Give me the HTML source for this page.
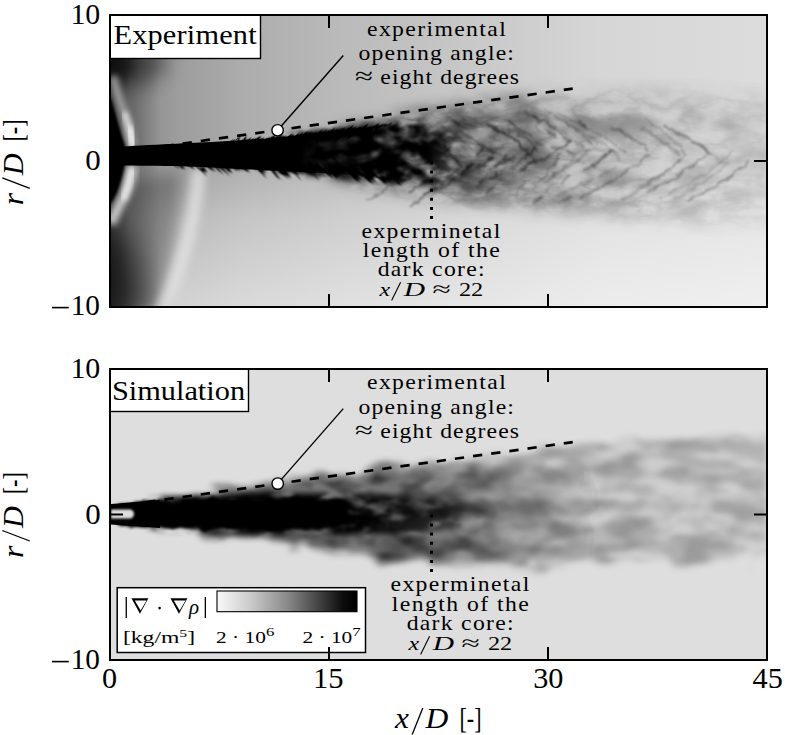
<!DOCTYPE html>
<html><head><meta charset="utf-8"><style>html,body{margin:0;padding:0;background:#fff;overflow:hidden}svg{display:block}</style></head>
<body><svg width="785" height="735" viewBox="0 0 785 735" font-family="Liberation Serif" fill="#000">
<defs>
<clipPath id="c1"><rect x="111" y="16" width="655" height="290"/></clipPath>
<clipPath id="c2"><rect x="111" y="370" width="655" height="289"/></clipPath>

<linearGradient id="cbar" x1="0" x2="1" y1="0" y2="0">
 <stop offset="0" stop-color="#fafafa"/><stop offset="0.25" stop-color="#c8c8c8"/><stop offset="0.5" stop-color="#8a8a8a"/><stop offset="0.75" stop-color="#3c3c3c"/><stop offset="0.9" stop-color="#0c0c0c"/><stop offset="1" stop-color="#000"/>
</linearGradient>
<linearGradient id="bgx" gradientUnits="userSpaceOnUse" x1="111" x2="766" y1="0" y2="0">
 <stop offset="0" stop-color="#808080"/><stop offset="0.05" stop-color="#8e8e8e"/><stop offset="0.1" stop-color="#9c9c9c"/><stop offset="0.2" stop-color="#acacac"/><stop offset="0.35" stop-color="#bababa"/><stop offset="0.55" stop-color="#c8c8c8"/><stop offset="0.75" stop-color="#d6d6d6"/><stop offset="1" stop-color="#dcdcdc"/>
</linearGradient>
<linearGradient id="bgy" gradientUnits="userSpaceOnUse" x1="0" x2="0" y1="160" y2="306">
 <stop offset="0" stop-color="#fff" stop-opacity="0"/><stop offset="0.4" stop-color="#fff" stop-opacity="0.3"/><stop offset="1" stop-color="#fff" stop-opacity="0.55"/>
</linearGradient>
<filter id="b05" x="-20%" y="-20%" width="140%" height="140%"><feGaussianBlur stdDeviation="0.6"/></filter>
<filter id="b1" x="-20%" y="-20%" width="140%" height="140%"><feGaussianBlur stdDeviation="1"/></filter>
<filter id="b2" x="-20%" y="-20%" width="140%" height="140%"><feGaussianBlur stdDeviation="2.5"/></filter>
<filter id="b3" x="-30%" y="-30%" width="160%" height="160%"><feGaussianBlur stdDeviation="3"/></filter>
<filter id="b4" x="-30%" y="-30%" width="160%" height="160%"><feGaussianBlur stdDeviation="4"/></filter>
<filter id="b6" x="-30%" y="-30%" width="160%" height="160%"><feGaussianBlur stdDeviation="6"/></filter>
<filter id="b8" x="-50%" y="-50%" width="200%" height="200%"><feGaussianBlur stdDeviation="8"/></filter>
<filter id="b10" x="-50%" y="-50%" width="200%" height="200%"><feGaussianBlur stdDeviation="10"/></filter>
<filter id="b16" x="-50%" y="-50%" width="200%" height="200%"><feGaussianBlur stdDeviation="16"/></filter>
<filter id="hair" x="-10%" y="-100%" width="120%" height="300%">
 <feTurbulence type="fractalNoise" baseFrequency="0.35 0.015" numOctaves="2" seed="3" result="t"/>
 <feDisplacementMap in="SourceGraphic" in2="t" scale="24" xChannelSelector="R" yChannelSelector="G" result="d"/>
 <feGaussianBlur in="d" stdDeviation="1.1"/>
</filter>
<filter id="hair2" x="-10%" y="-100%" width="120%" height="300%">
 <feTurbulence type="fractalNoise" baseFrequency="0.3 0.015" numOctaves="2" seed="8" result="t"/>
 <feDisplacementMap in="SourceGraphic" in2="t" scale="10" xChannelSelector="R" yChannelSelector="G" result="d"/>
 <feGaussianBlur in="d" stdDeviation="0.7"/>
</filter>
<filter id="fringe" x="-10%" y="-40%" width="120%" height="180%">
 <feTurbulence type="fractalNoise" baseFrequency="0.22 0.04" numOctaves="2" seed="9" result="t"/>
 <feDisplacementMap in="SourceGraphic" in2="t" scale="9" xChannelSelector="R" yChannelSelector="G" result="d"/>
 <feGaussianBlur in="d" stdDeviation="1"/>
</filter>
<filter id="ragged" x="-10%" y="-30%" width="120%" height="160%">
 <feTurbulence type="turbulence" baseFrequency="0.09 0.05" numOctaves="2" seed="4" result="t"/>
 <feDisplacementMap in="SourceGraphic" in2="t" scale="9" xChannelSelector="R" yChannelSelector="G" result="d"/>
 <feGaussianBlur in="d" stdDeviation="0.8"/>
</filter>
<filter id="streak" x="0" y="0" width="100%" height="100%">
 <feTurbulence type="turbulence" baseFrequency="0.025 0.06" numOctaves="3" seed="7" result="n"/>
 <feColorMatrix in="n" type="matrix" values="0 0 0 0 0  0 0 0 0 0  0 0 0 0 0  -5 0 0 0 1.3" result="a"/>
 <feComposite in="SourceGraphic" in2="a" operator="in" result="c"/>
 <feGaussianBlur in="c" stdDeviation="0.6"/>
</filter>
<filter id="cloud" x="0" y="0" width="100%" height="100%">
 <feTurbulence type="fractalNoise" baseFrequency="0.03 0.05" numOctaves="3" seed="3" result="n"/>
 <feColorMatrix in="n" type="matrix" values="0 0 0 0 0  0 0 0 0 0  0 0 0 0 0  2.2 0 0 0 -0.55" result="a"/>
 <feComposite in="SourceGraphic" in2="a" operator="in" result="c"/>
 <feGaussianBlur in="c" stdDeviation="2"/>
</filter>
<linearGradient id="gTopPuff" gradientUnits="userSpaceOnUse" x1="300" x2="766" y1="0" y2="0">
 <stop offset="0" stop-color="#fff"/><stop offset="0.3" stop-color="#fff"/><stop offset="0.55" stop-color="#909090"/><stop offset="0.8" stop-color="#505050"/><stop offset="1" stop-color="#383838"/>
</linearGradient>
<mask id="mTopPuff" maskUnits="userSpaceOnUse" x="0" y="0" width="785" height="735">
 <path d="M330,134 C380,120 430,108 480,101 C560,93 640,90 700,92 L780,97 L780,222 C700,225 640,220 580,213 C520,208 470,203 430,197 C390,190 360,184 330,178 Z" fill="url(#gTopPuff)" filter="url(#b8)"/>
</mask>
<linearGradient id="gLeftDark" gradientUnits="userSpaceOnUse" x1="111" x2="160" y1="0" y2="0">
 <stop offset="0" stop-color="#000" stop-opacity="0.55"/><stop offset="0.4" stop-color="#000" stop-opacity="0.25"/><stop offset="1" stop-color="#000" stop-opacity="0"/>
</linearGradient>
<linearGradient id="gTopDark" gradientUnits="userSpaceOnUse" x1="380" x2="600" y1="0" y2="0">
 <stop offset="0" stop-color="#fff"/><stop offset="0.5" stop-color="#d0d0d0"/><stop offset="1" stop-color="#000"/>
</linearGradient>
<mask id="mTopDark" maskUnits="userSpaceOnUse" x="0" y="0" width="785" height="735">
 <path d="M370,125 C420,110 470,103 520,100 C550,99 570,100 590,104 L600,150 L590,200 C560,206 520,206 480,200 C450,194 420,188 380,180 Z" fill="url(#gTopDark)" filter="url(#b6)"/>
</mask>
<linearGradient id="gCoreSolid" gradientUnits="userSpaceOnUse" x1="300" x2="420" y1="0" y2="0">
 <stop offset="0" stop-color="#fff"/><stop offset="1" stop-color="#fff" stop-opacity="0"/>
</linearGradient>
<mask id="mCoreSolid" maskUnits="userSpaceOnUse" x="0" y="0" width="785" height="735">
 <rect x="0" y="0" width="785" height="735" fill="url(#gCoreSolid)"/>
</mask>
<linearGradient id="gCoreTurb" gradientUnits="userSpaceOnUse" x1="270" x2="480" y1="0" y2="0">
 <stop offset="0" stop-color="#fff" stop-opacity="0"/><stop offset="0.15" stop-color="#fff"/><stop offset="0.75" stop-color="#fff"/><stop offset="1" stop-color="#fff" stop-opacity="0"/>
</linearGradient>
<mask id="mCoreTurb" maskUnits="userSpaceOnUse" x="0" y="0" width="785" height="735">
 <path d="M270,136 C320,130 350,126 380,123 C410,120 430,121 450,126 C470,135 478,160 470,176 C455,184 430,186 405,184 C370,181 330,177 270,172 Z" fill="url(#gCoreTurb)" filter="url(#b3)"/>
</mask>
<filter id="turb" x="0" y="0" width="100%" height="100%">
 <feTurbulence type="fractalNoise" baseFrequency="0.045 0.07" numOctaves="3" seed="14" result="n"/>
 <feColorMatrix in="n" type="matrix" values="0 0 0 0 0  0 0 0 0 0  0 0 0 0 0  -4.5 0 0 0 3.0" result="a"/>
 <feComposite in="SourceGraphic" in2="a" operator="in" result="c"/>
 <feGaussianBlur in="c" stdDeviation="0.8"/>
</filter>
<filter id="contour" x="0" y="0" width="100%" height="100%">
 <feTurbulence type="fractalNoise" baseFrequency="0.022 0.05" numOctaves="5" seed="9" result="n"/>
 <feComponentTransfer in="n" result="a"><feFuncA type="table" tableValues="0 0.1 0.3 0.95 0.3 0.1 0"/></feComponentTransfer>
 <feComposite in="SourceGraphic" in2="a" operator="in" result="c"/>
 <feGaussianBlur in="c" stdDeviation="0.4"/>
</filter>
<filter id="contour2" x="0" y="0" width="100%" height="100%">
 <feTurbulence type="fractalNoise" baseFrequency="0.03 0.06" numOctaves="5" seed="19" result="n"/>
 <feComponentTransfer in="n" result="a"><feFuncA type="table" tableValues="0 0.1 0.4 1 0.4 0.1 0"/></feComponentTransfer>
 <feComposite in="SourceGraphic" in2="a" operator="in" result="c"/>
 <feGaussianBlur in="c" stdDeviation="0.4"/>
</filter>
<linearGradient id="gSimPuff" gradientUnits="userSpaceOnUse" x1="450" x2="766" y1="0" y2="0">
 <stop offset="0" stop-color="#fff"/><stop offset="1" stop-color="#a0a0a0"/>
</linearGradient>
<filter id="edgeN" x="-10%" y="-30%" width="120%" height="160%">
 <feTurbulence type="fractalNoise" baseFrequency="0.03 0.06" numOctaves="2" seed="51" result="t"/>
 <feDisplacementMap in="SourceGraphic" in2="t" scale="26" xChannelSelector="R" yChannelSelector="G" result="d"/>
 <feGaussianBlur in="d" stdDeviation="3"/>
</filter>
<linearGradient id="gSimCore" gradientUnits="userSpaceOnUse" x1="150" x2="500" y1="0" y2="0">
 <stop offset="0" stop-color="#fff"/><stop offset="0.6" stop-color="#fff"/><stop offset="0.85" stop-color="#999"/><stop offset="1" stop-color="#000"/>
</linearGradient>
<mask id="mSimCore" maskUnits="userSpaceOnUse" x="0" y="0" width="785" height="735">
 <path d="M150,499 C220,494 300,492 360,494 C410,496 450,499 490,504 C500,512 495,522 480,526 C440,532 400,534 360,534 C300,535 220,533 150,529 Z" fill="url(#gSimCore)" filter="url(#b3)"/>
</mask>
<filter id="turbS" x="0" y="0" width="100%" height="100%">
 <feTurbulence type="fractalNoise" baseFrequency="0.035 0.08" numOctaves="3" seed="23" result="n"/>
 <feColorMatrix in="n" type="matrix" values="0 0 0 0 0  0 0 0 0 0  0 0 0 0 0  -4.5 0 0 0 3.1" result="a"/>
 <feComposite in="SourceGraphic" in2="a" operator="in" result="c"/>
 <feGaussianBlur in="c" stdDeviation="1.5"/>
</filter>
<filter id="wiggle" x="-10%" y="-10%" width="120%" height="120%">
 <feTurbulence type="fractalNoise" baseFrequency="0.12 0.12" numOctaves="2" seed="61" result="t"/>
 <feDisplacementMap in="SourceGraphic" in2="t" scale="7" xChannelSelector="R" yChannelSelector="G" result="d"/>
 <feGaussianBlur in="d" stdDeviation="0.9"/>
</filter>
<filter id="smoke" x="0" y="0" width="100%" height="100%">
 <feTurbulence type="fractalNoise" baseFrequency="0.022 0.035" numOctaves="4" seed="77" result="n"/>
 <feColorMatrix in="n" type="matrix" values="0 0 0 0 0  0 0 0 0 0  0 0 0 0 0  3.2 0 0 0 -1.35" result="a"/>
 <feComposite in="SourceGraphic" in2="a" operator="in" result="c"/>
 <feGaussianBlur in="c" stdDeviation="1.2"/>
</filter>
<filter id="puffA" x="0" y="0" width="100%" height="100%">
 <feTurbulence type="fractalNoise" baseFrequency="0.018 0.05" numOctaves="3" seed="31" result="n"/>
 <feColorMatrix in="n" type="matrix" values="0 0 0 0 0  0 0 0 0 0  0 0 0 0 0  5 0 0 0 -2.0" result="a"/>
 <feComposite in="SourceGraphic" in2="a" operator="in" result="c"/>
 <feGaussianBlur in="c" stdDeviation="2.4"/>
</filter>
<filter id="puffB" x="0" y="0" width="100%" height="100%">
 <feTurbulence type="fractalNoise" baseFrequency="0.022 0.06" numOctaves="3" seed="44" result="n"/>
 <feColorMatrix in="n" type="matrix" values="0 0 0 0 0  0 0 0 0 0  0 0 0 0 0  5 0 0 0 -2.3" result="a"/>
 <feComposite in="SourceGraphic" in2="a" operator="in" result="c"/>
 <feGaussianBlur in="c" stdDeviation="2.4"/>
</filter>
<clipPath id="cUpper"><rect x="111" y="16" width="655" height="146"/></clipPath>
<clipPath id="cLower"><rect x="111" y="160" width="655" height="146"/></clipPath>
<filter id="streakR" x="0" y="0" width="100%" height="100%">
 <feTurbulence type="turbulence" baseFrequency="0.014 0.05" numOctaves="3" seed="7" result="n"/>
 <feColorMatrix in="n" type="matrix" values="0 0 0 0 0  0 0 0 0 0  0 0 0 0 0  -4.5 0 0 0 1.15" result="a"/>
 <feComposite in="SourceGraphic" in2="a" operator="in" result="c"/>
 <feGaussianBlur in="c" stdDeviation="0.6"/>
</filter>
<filter id="streakR2" x="0" y="0" width="100%" height="100%">
 <feTurbulence type="turbulence" baseFrequency="0.014 0.05" numOctaves="3" seed="17" result="n"/>
 <feColorMatrix in="n" type="matrix" values="0 0 0 0 0  0 0 0 0 0  0 0 0 0 0  -4.5 0 0 0 1.15" result="a"/>
 <feComposite in="SourceGraphic" in2="a" operator="in" result="c"/>
 <feGaussianBlur in="c" stdDeviation="0.6"/>
</filter>
<mask id="mSimPuff" maskUnits="userSpaceOnUse" x="0" y="0" width="785" height="735">
 <path d="M190,494 C300,478 400,464 480,455 C560,444 650,440 780,438 L780,560 C680,560 600,565 520,567 C450,568 380,560 300,549 C250,541 210,533 180,529 Z" fill="url(#gSimPuff)" filter="url(#edgeN)"/>
 <ellipse cx="722" cy="440" rx="18" ry="7" fill="#aaa" filter="url(#b3)"/>
</mask>
<mask id="mSimMid" maskUnits="userSpaceOnUse" x="0" y="0" width="785" height="735">
 <path d="M160,498 C200,494 280,484 360,476 C400,472 430,470 480,466 C520,462 560,460 580,462 L600,470 L600,550 C560,556 520,560 470,560 C420,560 360,555 300,546 C250,540 210,534 160,529 Z" fill="url(#gSimMid)" filter="url(#edgeN)"/>
</mask>
<linearGradient id="gSimMid" gradientUnits="userSpaceOnUse" x1="200" x2="600" y1="0" y2="0">
 <stop offset="0" stop-color="#fff"/><stop offset="0.5" stop-color="#fff"/><stop offset="1" stop-color="#000"/>
</linearGradient>
<filter id="cloud2" x="0" y="0" width="100%" height="100%">
 <feTurbulence type="fractalNoise" baseFrequency="0.04 0.07" numOctaves="2" seed="21" result="n"/>
 <feColorMatrix in="n" type="matrix" values="0 0 0 0 0  0 0 0 0 0  0 0 0 0 0  3 0 0 0 -1.2" result="a"/>
 <feComposite in="SourceGraphic" in2="a" operator="in" result="c"/>
 <feGaussianBlur in="c" stdDeviation="1.5"/>
</filter>
<filter id="simcore" x="-10%" y="-40%" width="120%" height="180%">
 <feTurbulence type="fractalNoise" baseFrequency="0.06 0.1" numOctaves="2" seed="5" result="t"/>
 <feDisplacementMap in="SourceGraphic" in2="t" scale="10" xChannelSelector="R" yChannelSelector="G" result="d"/>
 <feGaussianBlur in="d" stdDeviation="1.5"/>
</filter>
<linearGradient id="puffTop" gradientUnits="userSpaceOnUse" x1="400" x2="766" y1="0" y2="0">
 <stop offset="0" stop-color="#000" stop-opacity="0.45"/><stop offset="0.5" stop-color="#000" stop-opacity="0.22"/><stop offset="1" stop-color="#000" stop-opacity="0.15"/>
</linearGradient>
<linearGradient id="simHalo" gradientUnits="userSpaceOnUse" x1="200" x2="766" y1="0" y2="0">
 <stop offset="0" stop-color="#000" stop-opacity="0.45"/><stop offset="0.4" stop-color="#000" stop-opacity="0.25"/><stop offset="1" stop-color="#000" stop-opacity="0.18"/>
</linearGradient>

</defs>
<rect width="785" height="735" fill="#fff"/>
<g clip-path="url(#c1)">

<rect x="111" y="16" width="655" height="290" fill="url(#bgx)"/>
<rect x="111" y="160" width="655" height="146" fill="url(#bgy)"/>
<!-- dark left regions -->
<rect x="100" y="16" width="60" height="290" fill="url(#gLeftDark)"/>
<ellipse cx="104" cy="300" rx="40" ry="70" fill="#000" opacity="0.6" filter="url(#b16)"/>
<ellipse cx="112" cy="62" rx="55" ry="26" fill="#000" opacity="0.45" filter="url(#b10)"/>
<ellipse cx="112" cy="64" rx="22" ry="18" fill="#000" opacity="0.5" filter="url(#b6)"/>
<path d="M118,185 C140,178 165,172 182,172 C178,220 170,262 160,310 L105,310 L105,190 Z" fill="#000" opacity="0.28" filter="url(#b8)"/>
<!-- second bright band lower-left -->
<path d="M199,170 C196,215 184,262 162,312" stroke="#e6e6e6" stroke-width="13" fill="none" opacity="0.75" filter="url(#b4)"/>
<!-- bright arc -->
<path d="M113,76 C115,86 117,93 120,101 C124,112 128,126 133,146" stroke="#a0a0a0" stroke-width="8" fill="none" filter="url(#b3)"/>
<path d="M124,112 C128,122 131,134 133,147" stroke="#d8d8d8" stroke-width="6" fill="none" filter="url(#b2)"/>
<path d="M129,126 C131,133 132,140 133,147" stroke="#f0f0f0" stroke-width="5" fill="none" filter="url(#b2)"/>
<path d="M133,166 C131,182 126,194 119,206 C116,212 113,218 111,224" stroke="#c8c8c8" stroke-width="10" fill="none" filter="url(#b3)"/>
<path d="M132,168 C130,180 127,190 123,200" stroke="#e8e8e8" stroke-width="6" fill="none" filter="url(#b2)"/>
<!-- black nozzle region -->
<path d="M100,96 L111,99 C114,108 117,120 120,130 C122,137 124,142 125,146 L125,164 C123,174 120,184 117,192 C115,196 113,200 111,203 L100,205 Z" fill="#000" filter="url(#b1)"/>
<!-- puff region (gray, streaky) -->
<g mask="url(#mTopPuff)">
 <rect x="111" y="16" width="655" height="290" fill="#000" opacity="0.05"/>
 <rect x="111" y="16" width="655" height="290" fill="#000" opacity="0.6" filter="url(#smoke)"/>
 <rect x="111" y="16" width="655" height="290" fill="#000" opacity="0.4" filter="url(#contour)"/>
</g>
<g mask="url(#mTopDark)">
 <rect x="111" y="16" width="655" height="290" fill="#000" opacity="0.15" filter="url(#contour2)"/>
</g>
<g filter="url(#wiggle)" opacity="0.8"><path d="M432.5,140.9 Q451.0,153.1 461.0,165.4" stroke="#000" stroke-width="2.6" fill="none" opacity="0.55"/><path d="M408.9,206.3 Q442.8,185.9 458.6,167.3" stroke="#000" stroke-width="2.6" fill="none" opacity="0.49"/><path d="M419.7,139.5 Q437.0,151.4 446.2,163.3" stroke="#000" stroke-width="1.8" fill="none" opacity="0.65"/><path d="M408.1,192.9 Q432.9,178.1 442.3,171.2" stroke="#000" stroke-width="1.8" fill="none" opacity="0.58"/><path d="M366.3,199.8 Q407.3,179.9 424.5,156.7" stroke="#000" stroke-width="1.9" fill="none" opacity="0.39"/><path d="M487.9,123.9 Q513.2,136.9 526.8,149.8" stroke="#000" stroke-width="2.4" fill="none" opacity="0.52"/><path d="M456.8,130.3 Q481.6,142.3 495.0,154.2" stroke="#000" stroke-width="2.4" fill="none" opacity="0.47"/><path d="M423.4,194.8 Q469.9,174.5 493.2,156.3" stroke="#000" stroke-width="2.4" fill="none" opacity="0.43"/><path d="M439.3,124.3 Q465.5,140.4 479.6,156.5" stroke="#000" stroke-width="1.3" fill="none" opacity="0.32"/><path d="M427.7,197.3 Q461.4,176.9 476.6,162.5" stroke="#000" stroke-width="1.3" fill="none" opacity="0.29"/><path d="M523.8,110.9 Q554.2,125.8 570.6,140.8" stroke="#000" stroke-width="1.6" fill="none" opacity="0.61"/><path d="M520.7,168.8 Q553.2,154.8 570.7,140.9" stroke="#000" stroke-width="1.6" fill="none" opacity="0.55"/><path d="M503.1,118.3 Q527.6,131.7 540.7,145.0" stroke="#000" stroke-width="2.1" fill="none" opacity="0.37"/><path d="M493.6,178.8 Q524.2,161.9 535.6,147.2" stroke="#000" stroke-width="2.1" fill="none" opacity="0.34"/><path d="M473.6,118.8 Q510.9,134.9 530.9,150.9" stroke="#000" stroke-width="1.3" fill="none" opacity="0.25"/><path d="M484.0,191.9 Q514.5,171.4 530.9,151.1" stroke="#000" stroke-width="1.3" fill="none" opacity="0.23"/><path d="M584.6,171.1 Q605.8,156.6 612.7,149.7" stroke="#000" stroke-width="2.6" fill="none" opacity="0.49"/><path d="M542.9,109.2 Q574.6,126.3 591.7,143.3" stroke="#000" stroke-width="1.5" fill="none" opacity="0.39"/><path d="M548.3,179.3 Q576.5,161.3 589.2,148.0" stroke="#000" stroke-width="1.5" fill="none" opacity="0.36"/><path d="M546.2,119.7 Q570.6,134.6 583.7,149.5" stroke="#000" stroke-width="1.9" fill="none" opacity="0.22"/><path d="M543.3,182.2 Q569.6,165.9 582.6,145.8" stroke="#000" stroke-width="1.9" fill="none" opacity="0.20"/><path d="M610.1,127.1 Q635.4,139.0 649.0,150.9" stroke="#000" stroke-width="2.2" fill="none" opacity="0.34"/><path d="M580.4,198.1 Q625.0,174.5 649.0,154.7" stroke="#000" stroke-width="2.2" fill="none" opacity="0.31"/><path d="M556.9,113.6 Q602.5,133.7 627.1,153.8" stroke="#000" stroke-width="1.6" fill="none" opacity="0.29"/><path d="M561.1,120.1 Q600.1,139.6 621.1,159.1" stroke="#000" stroke-width="2.3" fill="none" opacity="0.22"/><path d="M556.7,195.5 Q598.6,177.3 618.1,166.6" stroke="#000" stroke-width="2.3" fill="none" opacity="0.20"/><path d="M662.6,125.2 Q693.2,139.1 709.6,153.0" stroke="#000" stroke-width="2.5" fill="none" opacity="0.39"/><path d="M648.5,191.7 Q688.2,172.3 706.5,154.1" stroke="#000" stroke-width="2.5" fill="none" opacity="0.35"/><path d="M643.3,117.7 Q672.2,137.1 687.8,156.5" stroke="#000" stroke-width="1.7" fill="none" opacity="0.26"/><path d="M638.7,186.9 Q670.6,171.7 684.0,156.0" stroke="#000" stroke-width="1.7" fill="none" opacity="0.24"/><path d="M642.5,128.5 Q667.3,142.3 680.7,156.1" stroke="#000" stroke-width="2.6" fill="none" opacity="0.24"/><path d="M619.4,201.4 Q659.2,178.7 681.2,159.2" stroke="#000" stroke-width="2.6" fill="none" opacity="0.22"/><path d="M687.2,200.9 Q730.8,179.4 749.3,161.2" stroke="#000" stroke-width="2.3" fill="none" opacity="0.33"/><path d="M658.7,198.2 Q709.6,175.8 733.6,149.9" stroke="#000" stroke-width="1.4" fill="none" opacity="0.22"/><path d="M669.3,130.7 Q707.6,148.2 728.2,165.7" stroke="#000" stroke-width="2.2" fill="none" opacity="0.18"/><path d="M673.5,198.5 Q709.1,182.1 725.1,165.7" stroke="#000" stroke-width="2.2" fill="none" opacity="0.16"/><path d="M508.0,120.7 l12.4,8.8" stroke="#000" stroke-width="1.4" fill="none" opacity="0.40"/><path d="M488.4,149.2 l14.0,7.4" stroke="#000" stroke-width="1.5" fill="none" opacity="0.44"/><path d="M456.5,174.7 l8.1,-4.1" stroke="#000" stroke-width="2.0" fill="none" opacity="0.65"/><path d="M553.8,163.1 l7.0,-8.8" stroke="#000" stroke-width="2.2" fill="none" opacity="0.40"/><path d="M514.4,196.2 l10.8,-14.3" stroke="#000" stroke-width="1.4" fill="none" opacity="0.41"/><path d="M491.2,126.2 l13.9,7.0" stroke="#000" stroke-width="2.4" fill="none" opacity="0.53"/><path d="M522.1,148.3 l12.8,11.7" stroke="#000" stroke-width="2.5" fill="none" opacity="0.58"/><path d="M533.8,202.9 l10.4,-7.6" stroke="#000" stroke-width="2.4" fill="none" opacity="0.44"/><path d="M476.3,170.3 l11.2,-6.2" stroke="#000" stroke-width="2.4" fill="none" opacity="0.53"/><path d="M575.7,161.3 l14.5,-9.6" stroke="#000" stroke-width="1.5" fill="none" opacity="0.37"/><path d="M545.0,188.7 l12.7,-7.0" stroke="#000" stroke-width="1.8" fill="none" opacity="0.29"/><path d="M485.7,193.9 l8.0,-8.2" stroke="#000" stroke-width="2.1" fill="none" opacity="0.39"/><path d="M533.3,116.4 l7.3,6.6" stroke="#000" stroke-width="1.4" fill="none" opacity="0.57"/><path d="M493.8,166.9 l15.6,-8.4" stroke="#000" stroke-width="2.6" fill="none" opacity="0.35"/><path d="M520.2,170.7 l14.5,-10.4" stroke="#000" stroke-width="2.5" fill="none" opacity="0.50"/><path d="M501.5,126.0 l8.4,6.1" stroke="#000" stroke-width="1.7" fill="none" opacity="0.44"/><path d="M551.2,144.8 l12.8,6.3" stroke="#000" stroke-width="1.4" fill="none" opacity="0.46"/><path d="M563.6,138.6 l7.1,4.4" stroke="#000" stroke-width="1.7" fill="none" opacity="0.35"/><path d="M514.2,137.8 l9.6,10.9" stroke="#000" stroke-width="2.3" fill="none" opacity="0.54"/><path d="M517.6,133.9 l13.7,9.1" stroke="#000" stroke-width="2.4" fill="none" opacity="0.44"/><path d="M524.4,156.3 l11.9,-8.4" stroke="#000" stroke-width="2.0" fill="none" opacity="0.52"/><path d="M484.2,163.8 l9.8,-7.9" stroke="#000" stroke-width="1.7" fill="none" opacity="0.53"/><path d="M536.4,125.3 l6.1,7.2" stroke="#000" stroke-width="1.3" fill="none" opacity="0.51"/><path d="M543.9,129.4 l12.1,7.7" stroke="#000" stroke-width="2.4" fill="none" opacity="0.33"/><path d="M447.4,116.9 l13.0,7.9" stroke="#000" stroke-width="1.6" fill="none" opacity="0.75"/><path d="M540.4,179.8 l9.9,-9.6" stroke="#000" stroke-width="1.2" fill="none" opacity="0.51"/><path d="M479.4,185.4 l7.4,-9.6" stroke="#000" stroke-width="1.2" fill="none" opacity="0.69"/><path d="M444.4,154.8 l7.4,-10.4" stroke="#000" stroke-width="2.2" fill="none" opacity="0.76"/><path d="M565.9,150.0 l8.3,4.6" stroke="#000" stroke-width="2.2" fill="none" opacity="0.50"/><path d="M529.8,141.9 l9.9,9.8" stroke="#000" stroke-width="1.6" fill="none" opacity="0.50"/><path d="M459.9,115.5 l6.7,5.5" stroke="#000" stroke-width="2.2" fill="none" opacity="0.45"/><path d="M489.5,172.2 l8.1,-6.9" stroke="#000" stroke-width="2.0" fill="none" opacity="0.47"/><path d="M461.3,170.4 l12.9,-7.7" stroke="#000" stroke-width="2.3" fill="none" opacity="0.61"/><path d="M560.0,185.5 l8.9,-9.4" stroke="#000" stroke-width="1.6" fill="none" opacity="0.43"/><path d="M442.4,141.7 l8.1,10.2" stroke="#000" stroke-width="2.2" fill="none" opacity="0.74"/><path d="M560.4,204.7 l10.3,-9.8" stroke="#000" stroke-width="1.9" fill="none" opacity="0.32"/><path d="M549.5,168.0 l8.1,-5.1" stroke="#000" stroke-width="1.5" fill="none" opacity="0.47"/><path d="M519.6,128.3 l11.1,9.9" stroke="#000" stroke-width="1.6" fill="none" opacity="0.44"/><path d="M578.9,120.7 l7.6,7.0" stroke="#000" stroke-width="2.4" fill="none" opacity="0.46"/><path d="M489.9,178.9 l7.4,-5.5" stroke="#000" stroke-width="2.4" fill="none" opacity="0.56"/><path d="M497.0,164.3 l9.7,-8.5" stroke="#000" stroke-width="2.4" fill="none" opacity="0.65"/><path d="M460.0,175.4 l12.7,-11.9" stroke="#000" stroke-width="1.9" fill="none" opacity="0.51"/><path d="M502.6,162.9 l12.4,-6.7" stroke="#000" stroke-width="2.6" fill="none" opacity="0.41"/><path d="M512.1,128.3 l12.7,6.6" stroke="#000" stroke-width="1.7" fill="none" opacity="0.43"/><path d="M476.9,153.8 l7.4,-6.1" stroke="#000" stroke-width="2.3" fill="none" opacity="0.57"/></g>
<!-- dark jet core -->
<path mask="url(#mCoreSolid)" d="M116.0,147.0 L124.0,146.5 L132.0,146.1 L140.0,145.6 L148.0,145.1 L156.0,144.7 L164.0,144.3 L172.0,143.9 L180.0,143.5 L188.0,143.1 L196.0,142.7 L204.0,142.3 L212.0,141.9 L220.0,141.4 L228.0,141.0 L236.0,140.5 L244.0,140.0 L252.0,139.5 L260.0,139.0 L268.0,138.4 L276.0,137.6 L284.0,136.8 L292.0,135.9 L300.0,135.0 L308.0,134.1 L316.0,133.1 L324.0,132.2 L332.0,131.2 L340.0,130.2 L348.0,129.2 L356.0,128.4 L364.0,127.6 L372.0,126.8 L380.0,126.0 L388.0,125.4 L396.0,124.8 L404.0,124.5 L412.0,124.5 L420.0,124.5 L432.0,127.0 L442.0,134.0 L444.0,150.0 L440.0,166.0 L436.0,178.0 L428.0,184.0 L415.0,183.0 L412.0,181.7 L404.0,180.9 L396.0,180.1 L388.0,179.2 L380.0,178.2 L372.0,177.2 L364.0,176.4 L356.0,175.6 L348.0,174.8 L340.0,174.2 L332.0,173.7 L324.0,173.2 L316.0,172.8 L308.0,172.4 L300.0,172.0 L292.0,171.6 L284.0,171.2 L276.0,170.8 L268.0,170.4 L260.0,170.0 L252.0,169.6 L244.0,169.2 L236.0,168.8 L228.0,168.4 L220.0,168.0 L212.0,167.6 L204.0,167.2 L196.0,166.8 L188.0,166.4 L180.0,166.0 L172.0,165.9 L164.0,165.9 L156.0,165.8 L148.0,165.8 L140.0,165.7 L132.0,165.6 L124.0,165.6 L116.0,165.5 Z" fill="#000" filter="url(#b05)"/>
<g transform="skewX(40)"><path d="M37.0,164.5 L45.3,164.1 L53.9,163.4 L62.5,162.7 L71.1,162.0 L79.7,161.3 L88.2,160.6 L96.8,159.9 L104.8,159.9 L112.5,160.3 L120.1,160.8 L127.8,161.2 L135.4,161.6 L143.1,161.9 L150.8,162.3 L158.4,162.8 L166.1,163.2 L173.8,163.6 L181.4,163.9 L189.1,164.3 L196.7,164.9 L204.1,165.5 L211.6,166.1 L218.1,168.0 L224.5,169.8 L230.8,171.8 L237.1,173.9 L243.4,175.9 L249.7,177.9 L256.2,179.7 L253.7,182.7 L246.4,181.9 L239.1,181.0 L231.9,180.1 L224.7,179.1 L217.5,178.2 L210.1,177.4 L202.8,176.6 L195.3,176.0 L187.8,175.4 L180.3,174.8 L172.6,174.4 L165.0,174.1 L157.3,173.7 L149.6,173.2 L142.0,172.8 L134.3,172.4 L126.6,172.1 L119.0,171.7 L111.3,171.2 L103.6,170.8 L96.0,170.4 L88.3,170.1 L80.6,169.7 L73.0,169.2 L65.3,168.8 L57.7,168.4 L50.0,168.1 L42.3,167.7 L34.5,167.5 Z" fill="#000" filter="url(#hair)"/></g>
<g transform="skewX(-40)"><path d="M347.4,139.9 L355.0,139.4 L362.6,138.9 L370.1,138.4 L377.7,137.8 L385.2,137.3 L392.5,136.4 L399.7,135.5 L407.0,134.7 L414.2,133.8 L421.5,132.8 L428.7,131.9 L435.9,131.0 L443.1,130.0 L450.2,129.0 L457.4,128.0 L464.7,127.2 L472.1,126.4 L479.4,125.6 L486.8,124.8 L494.3,124.2 L495.5,125.8 L488.9,127.4 L482.9,129.8 L476.9,132.2 L470.9,134.6 L465.0,137.0 L457.8,138.0 L450.6,139.0 L443.4,140.0 L436.2,140.9 L429.0,141.8 L421.8,142.8 L414.5,143.7 L407.3,144.5 L400.0,145.4 L392.8,146.3 L383.9,145.2 L375.0,144.2 L366.1,143.1 L357.2,142.0 L348.6,141.4 Z" fill="#000" filter="url(#hair2)"/></g>
<g mask="url(#mCoreTurb)">
 <rect x="250" y="100" width="230" height="110" fill="#000" filter="url(#turb)"/>
</g>

</g>
<g clip-path="url(#c2)">

<rect x="111" y="370" width="655" height="289" fill="#dedede"/>
<g mask="url(#mSimPuff)">
 <rect x="111" y="370" width="655" height="289" fill="#000" opacity="0.09"/>
 <rect x="111" y="370" width="655" height="289" fill="#000" opacity="0.22" filter="url(#puffA)"/>
 <rect x="111" y="370" width="655" height="289" fill="#000" opacity="0.18" filter="url(#puffB)"/>
</g>
<g mask="url(#mSimMid)">
 <rect x="111" y="370" width="655" height="289" fill="#000" opacity="0.4"/>
 <rect x="111" y="370" width="655" height="289" fill="#000" opacity="0.5" filter="url(#cloud2)"/>
</g>
<path d="M118,503 C150,500 200,498 250,497.5 C290,497.5 320,499 340,501 C350,508 350,520 340,526 C320,529 290,530 250,530 C200,529 160,528 118,525 Z" fill="#000" filter="url(#simcore)"/>
<g mask="url(#mSimCore)"><rect x="111" y="470" width="420" height="90" fill="#000" filter="url(#turbS)"/></g>
<g filter="url(#b2)">
<ellipse cx="460" cy="512" rx="26" ry="7" fill="#000" opacity="0.35"/>
</g>
<path d="M111,504 L160,500 L160,528 L111,524.5 Z" fill="#000"/>
<path d="M111,509.5 L131,509.5 C135,512 135,516 131,518.5 L111,518.5 Z" fill="#dedede" filter="url(#b1)"/>

</g>
<line x1="110.0" y1="153.73" x2="572.7" y2="88.70" stroke="#000" stroke-width="2.7" stroke-dasharray="9.3 9.03"/>
<line x1="277.6" y1="130.3" x2="343.3" y2="55.5" stroke="#000" stroke-width="1.4"/>
<circle cx="277.6" cy="130.3" r="5.7" fill="#fff" stroke="#000" stroke-width="1.4"/>
<line x1="431.5" y1="161.4" x2="431.5" y2="219.0" stroke="#000" stroke-width="3" stroke-dasharray="3 6.1"/>
<line x1="110.0" y1="507.23" x2="572.7" y2="442.20" stroke="#000" stroke-width="2.7" stroke-dasharray="9.3 9.03"/>
<line x1="277.7" y1="483.6" x2="343.3" y2="408.6" stroke="#000" stroke-width="1.4"/>
<circle cx="277.7" cy="483.6" r="5.7" fill="#fff" stroke="#000" stroke-width="1.4"/>
<line x1="431.5" y1="514.4" x2="431.5" y2="572.0" stroke="#000" stroke-width="3" stroke-dasharray="3 6.1"/>
<!-- label boxes -->
<rect x="110" y="15" width="150.5" height="43.5" fill="#fff" stroke="#000" stroke-width="1.4"/>
<rect x="110" y="369" width="138.5" height="42.5" fill="#fff" stroke="#000" stroke-width="1.4"/>
<!-- legend -->
<rect x="117.2" y="587.7" width="248.3" height="64.8" fill="#fff" stroke="#000" stroke-width="1.5"/>
<rect x="217" y="591" width="140" height="20.7" fill="url(#cbar)" stroke="#000" stroke-width="1.1"/>
<rect x="110" y="15" width="657" height="292" fill="none" stroke="#000" stroke-width="2"/>
<line x1="329" y1="16" x2="329" y2="28" stroke="#000" stroke-width="2"/>
<line x1="329" y1="306" x2="329" y2="294" stroke="#000" stroke-width="2"/>
<line x1="548" y1="16" x2="548" y2="28" stroke="#000" stroke-width="2"/>
<line x1="548" y1="306" x2="548" y2="294" stroke="#000" stroke-width="2"/>
<line x1="111" y1="161.0" x2="123" y2="161.0" stroke="#000" stroke-width="2"/>
<line x1="766" y1="161.0" x2="754" y2="161.0" stroke="#000" stroke-width="2"/>
<rect x="110" y="369" width="657" height="291" fill="none" stroke="#000" stroke-width="2"/>
<line x1="329" y1="370" x2="329" y2="382" stroke="#000" stroke-width="2"/>
<line x1="329" y1="659" x2="329" y2="647" stroke="#000" stroke-width="2"/>
<line x1="548" y1="370" x2="548" y2="382" stroke="#000" stroke-width="2"/>
<line x1="548" y1="659" x2="548" y2="647" stroke="#000" stroke-width="2"/>
<line x1="111" y1="514.5" x2="123" y2="514.5" stroke="#000" stroke-width="2"/>
<line x1="766" y1="514.5" x2="754" y2="514.5" stroke="#000" stroke-width="2"/>
<g fill="#000">
<text transform="translate(113.5,43.7) scale(1.15,1)" x="0" y="0" font-size="26.4" textLength="124.44" lengthAdjust="spacing">Experiment</text>
<text transform="translate(111.9,399.7) scale(1.15,1)" x="0" y="0" font-size="26.4" textLength="115.82" lengthAdjust="spacing">Simulation</text>
<text transform="translate(367.0,35.9) scale(1.15,1)" x="0" y="0" font-size="20.6" textLength="120.64" lengthAdjust="spacing">experimental</text>
<text transform="translate(358.5,60.3) scale(1.15,1)" x="0" y="0" font-size="20.6" textLength="135.16" lengthAdjust="spacing">opening angle:</text>
<text transform="translate(380.3,84.4) scale(1.15,1)" x="0" y="0" font-size="20.6" textLength="120.65" lengthAdjust="spacing">eight degrees</text>
<text x="355.0" y="84.4" font-size="24.0" textLength="17.92" lengthAdjust="spacingAndGlyphs">≈</text>
<text transform="translate(367.0,389.4) scale(1.15,1)" x="0" y="0" font-size="20.6" textLength="120.64" lengthAdjust="spacing">experimental</text>
<text transform="translate(358.5,413.8) scale(1.15,1)" x="0" y="0" font-size="20.6" textLength="135.16" lengthAdjust="spacing">opening angle:</text>
<text transform="translate(380.3,437.9) scale(1.15,1)" x="0" y="0" font-size="20.6" textLength="120.65" lengthAdjust="spacing">eight degrees</text>
<text x="355.0" y="437.9" font-size="24.0" textLength="17.92" lengthAdjust="spacingAndGlyphs">≈</text>
<text transform="translate(361.5,237.6) scale(1.15,1)" x="0" y="0" font-size="20.6" textLength="120.64" lengthAdjust="spacing">experminetal</text>
<text transform="translate(362.7,257.3) scale(1.15,1)" x="0" y="0" font-size="20.6" textLength="119.17" lengthAdjust="spacing">length of the</text>
<text transform="translate(377.7,276.4) scale(1.15,1)" x="0" y="0" font-size="20.6" textLength="92.94" lengthAdjust="spacing">dark core:</text>
<text x="379.5" y="296.3" font-size="19.5" textLength="10.6" lengthAdjust="spacingAndGlyphs"><tspan font-style='italic'>x</tspan></text>
<text x="403.7" y="296.3" font-size="19.5" textLength="21.34" lengthAdjust="spacingAndGlyphs"><tspan font-style='italic'>D</tspan></text>
<text x="432.6" y="296.3" font-size="21.0" textLength="18.3" lengthAdjust="spacingAndGlyphs">≈</text>
<text x="458.9" y="296.3" font-size="19.5" textLength="24.27" lengthAdjust="spacingAndGlyphs">22</text>
<text transform="translate(390.5,591.4) scale(1.15,1)" x="0" y="0" font-size="20.6" textLength="120.64" lengthAdjust="spacing">experminetal</text>
<text transform="translate(391.7,611.1) scale(1.15,1)" x="0" y="0" font-size="20.6" textLength="119.17" lengthAdjust="spacing">length of the</text>
<text transform="translate(406.7,629.9) scale(1.15,1)" x="0" y="0" font-size="20.6" textLength="92.94" lengthAdjust="spacing">dark core:</text>
<text x="408.5" y="650.3" font-size="19.5" textLength="10.6" lengthAdjust="spacingAndGlyphs"><tspan font-style='italic'>x</tspan></text>
<text x="432.7" y="650.3" font-size="19.5" textLength="21.34" lengthAdjust="spacingAndGlyphs"><tspan font-style='italic'>D</tspan></text>
<text x="461.6" y="650.3" font-size="21.0" textLength="18.3" lengthAdjust="spacingAndGlyphs">≈</text>
<text x="487.9" y="650.3" font-size="19.5" textLength="24.27" lengthAdjust="spacingAndGlyphs">22</text>
<text x="70.4" y="23.9" font-size="29.26" textLength="29.94" lengthAdjust="spacingAndGlyphs">10</text>
<text x="85.2" y="169.6" font-size="29.87" textLength="15.48" lengthAdjust="spacingAndGlyphs">0</text>
<text x="70.7" y="314.7" font-size="28.95" textLength="29.27" lengthAdjust="spacingAndGlyphs">10</text>
<text x="70.4" y="377.9" font-size="29.26" textLength="29.94" lengthAdjust="spacingAndGlyphs">10</text>
<text x="85.2" y="523.6" font-size="29.87" textLength="15.48" lengthAdjust="spacingAndGlyphs">0</text>
<text x="70.7" y="668.7" font-size="28.95" textLength="29.27" lengthAdjust="spacingAndGlyphs">10</text>
<text x="102.1" y="688.2" font-size="29.77" textLength="15.08" lengthAdjust="spacingAndGlyphs">0</text>
<text x="313.0" y="688.2" font-size="29.77" textLength="30.52" lengthAdjust="spacingAndGlyphs">15</text>
<text x="533.2" y="688.2" font-size="29.77" textLength="30.24" lengthAdjust="spacingAndGlyphs">30</text>
<text x="752.6" y="688.2" font-size="29.77" textLength="30.24" lengthAdjust="spacingAndGlyphs">45</text>
<text x="395.0" y="728.3" font-size="28.4" textLength="13.9" lengthAdjust="spacingAndGlyphs"><tspan font-style='italic'>x</tspan></text>
<text x="425.5" y="728.3" font-size="28.4" textLength="22.77" lengthAdjust="spacingAndGlyphs"><tspan font-style='italic'>D</tspan></text>
<text x="459.5" y="728.3" font-size="28.4" textLength="21.99" lengthAdjust="spacingAndGlyphs">[-]</text>
<text x="122.9" y="642.5" font-size="16.5" textLength="72.25" lengthAdjust="spacingAndGlyphs">[kg/m<tspan font-size='11' dy='-6'>5</tspan><tspan dy='6'>]</tspan></text>
<text x="216.1" y="643.1" font-size="16.5" textLength="58.28" lengthAdjust="spacingAndGlyphs">2 · 10<tspan font-size='13' dy='-7'>6</tspan></text>
<text x="302.4" y="643.1" font-size="16.5" textLength="58.3" lengthAdjust="spacingAndGlyphs">2 · 10<tspan font-size='13' dy='-7'>7</tspan></text>

<rect x="52" y="306.8" width="16.7" height="1.6"/>
<rect x="52" y="660.8" width="16.7" height="1.6"/>
<line x1="391.6" y1="300.6" x2="400.6" y2="282.2" stroke="#000" stroke-width="1.1"/>
<line x1="420.6" y1="654.6" x2="429.6" y2="636.2" stroke="#000" stroke-width="1.1"/>
<line x1="412.2" y1="734.5" x2="422.8" y2="708" stroke="#000" stroke-width="1.3"/>
<g transform="translate(23.3,204.3) rotate(-90)"><text x="-1.00" y="0" font-size="28.4" textLength="12.44" lengthAdjust="spacingAndGlyphs"><tspan font-style='italic'>r</tspan></text><text x="29.10" y="0" font-size="28.4" textLength="21.95" lengthAdjust="spacingAndGlyphs"><tspan font-style='italic'>D</tspan></text><text x="62.70" y="0" font-size="28.4" textLength="22.23" lengthAdjust="spacingAndGlyphs">[-]</text><line x1="16" y1="6.5" x2="26.5" y2="-21" stroke="#000" stroke-width="1.3"/></g>
<g transform="translate(23.3,557.0) rotate(-90)"><text x="-1.00" y="0" font-size="28.4" textLength="12.44" lengthAdjust="spacingAndGlyphs"><tspan font-style='italic'>r</tspan></text><text x="29.10" y="0" font-size="28.4" textLength="21.95" lengthAdjust="spacingAndGlyphs"><tspan font-style='italic'>D</tspan></text><text x="62.70" y="0" font-size="28.4" textLength="22.23" lengthAdjust="spacingAndGlyphs">[-]</text><line x1="16" y1="6.5" x2="26.5" y2="-21" stroke="#000" stroke-width="1.3"/></g>
<rect x="125.6" y="597" width="1.3" height="21"/>
<rect x="204.7" y="597" width="1.3" height="21"/>
<path d="M131.5,598.3 L148.4,598.3 L139.95,613.8 Z M134.8,600.4 L140.65,610.4 L146.5,600.4 Z" fill="#000" fill-rule="evenodd"/>
<path d="M170.5,598.3 L187.4,598.3 L178.95,613.8 Z M173.8,600.4 L179.65,610.4 L185.5,600.4 Z" fill="#000" fill-rule="evenodd"/>
<circle cx="159.6" cy="608.1" r="1.3"/>
<text x="189" y="613.5" font-size="21" font-style="italic">ρ</text>
</g>
</svg></body></html>
